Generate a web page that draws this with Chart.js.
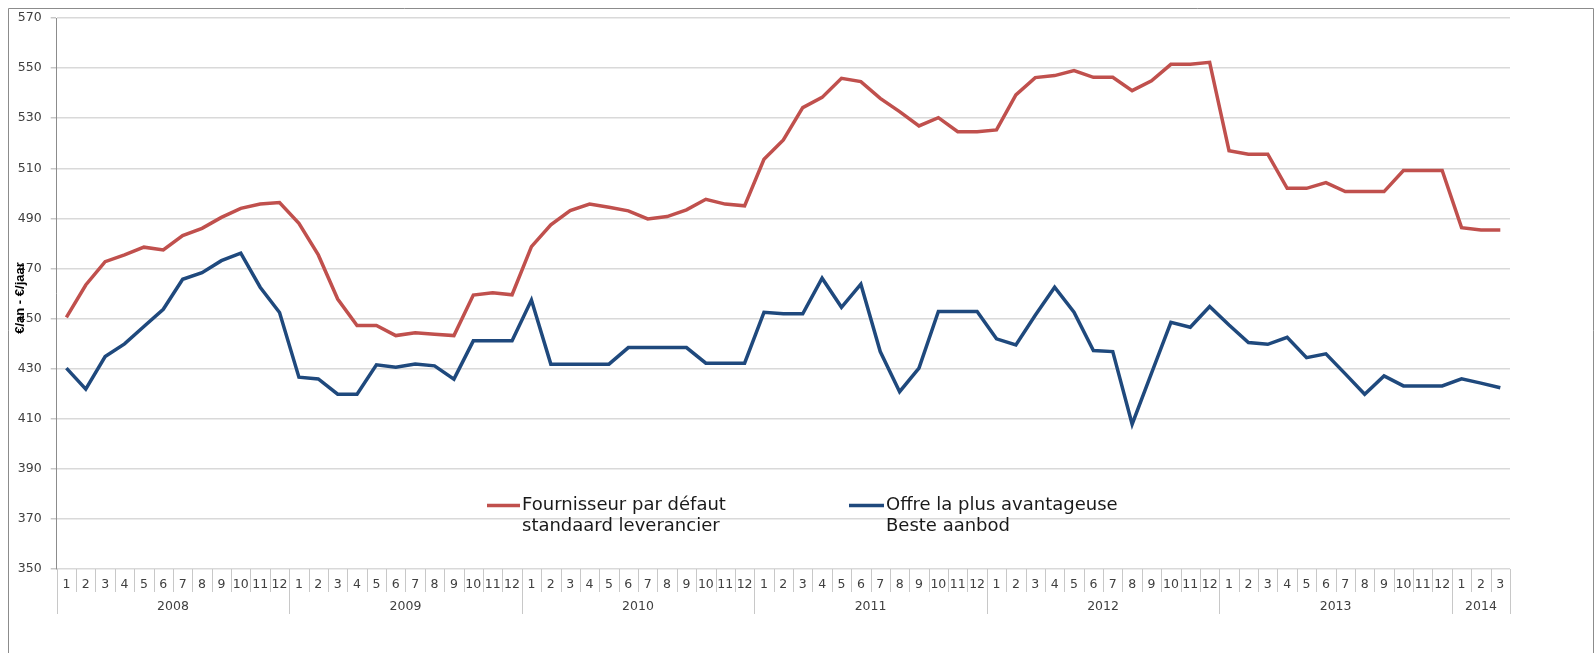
<!DOCTYPE html>
<html>
<head>
<meta charset="utf-8">
<script src="https://cdn.jsdelivr.net/npm/chart.js@4.4.1/dist/chart.umd.min.js"></script>
<style>
    html, body { margin: 0; padding: 0; background: #fff; }
    canvas { display: block; }
</style>
</head>
<body>
<canvas id="chart" width="1595" height="653"></canvas>
<script>
// categories: months grouped by year
const years = ['2008', '2009', '2010', '2011', '2012', '2013', '2014'];
const monthsInYear = [12, 12, 12, 12, 12, 12, 3];

// €/year
const defaultSupplier = [
    450.5, 463.4, 472.7, 475.4, 478.5, 477.4, 483.1, 486.0, 490.4, 494.0, 495.7, 496.3,
    488.0, 475.4, 457.8, 447.2, 447.2, 443.2, 444.3, 443.7, 443.2, 459.4, 460.3, 459.5,
    478.7, 487.4, 493.1, 495.7, 494.4, 493.0, 489.8, 490.7, 493.4, 497.6, 495.7, 495.0,
    513.6, 521.3, 534.2, 538.3, 545.9, 544.6, 537.9, 532.6, 526.9, 530.2, 524.6, 524.6,
    525.3, 539.3, 546.2, 547.0, 549.0, 546.3, 546.3, 541.0, 544.9, 551.5, 551.5, 552.3,
    517.0, 515.6, 515.6, 502.0, 502.0, 504.3, 500.7, 500.7, 500.7, 509.1, 509.1, 509.1,
    486.3, 485.4, 485.4
];
const bestOffer = [
    430.2, 421.8, 434.8, 439.9, 446.8, 453.7, 465.7, 468.3, 473.1, 476.1, 462.5, 452.4,
    426.6, 425.9, 419.8, 419.8, 431.5, 430.6, 431.8, 431.1, 425.8, 441.1, 441.1, 441.1,
    457.4, 431.8, 431.8, 431.8, 431.8, 438.4, 438.4, 438.4, 438.4, 432.2, 432.2, 432.2,
    452.5, 451.9, 451.9, 466.1, 454.5, 463.7, 436.8, 420.8, 430.2, 452.8, 452.8, 452.8,
    441.9, 439.5, 451.3, 462.5, 452.5, 437.2, 436.8, 407.8, 428.2, 448.5, 446.5, 454.8,
    447.4, 440.4, 439.7, 442.5, 434.4, 435.9, 427.9, 419.8, 427.1, 423.1, 423.1, 423.1,
    425.9, 424.2, 422.4
];

const yTicks = [350, 370, 390, 410, 430, 450, 470, 490, 510, 530, 550, 570];
const seriesNames = [
    ['Fournisseur par défaut', 'standaard leverancier'],
    ['Offre la plus avantageuse', 'Beste aanbod']
];
const yTitle = '€/an - €/jaar';

const monthLabels = [];
monthsInYear.forEach(n => {
    for (let m = 1; m <= n; m++) monthLabels.push(String(m));
});

const FONT = "'DejaVu Sans', sans-serif";
const LABEL_COLOR = '#404040';

// frame, year row, month separators, legend and axis title
const decorations = {
    id: 'decorations',
    afterDraw(chart) {
        const ctx = chart.ctx;
        const x = chart.scales.x;
        const area = chart.chartArea;
        const step = x.getPixelForValue(1) - x.getPixelForValue(0);
        const edge = i => x.getPixelForValue(0) - step / 2 + i * step;

        ctx.save();

        // outer frame
        ctx.strokeStyle = '#8c8c8c';
        ctx.lineWidth = 1;
        ctx.beginPath();
        ctx.moveTo(8.5, 653);
        ctx.lineTo(8.5, 8.5);
        ctx.lineTo(1593.5, 8.5);
        ctx.lineTo(1593.5, 653);
        ctx.stroke();

        // month separators
        ctx.strokeStyle = '#c8c8c8';
        ctx.beginPath();
        for (let i = 0; i <= monthLabels.length; i++) {
            const px = Math.round(edge(i)) + 0.5;
            ctx.moveTo(px, area.bottom);
            ctx.lineTo(px, area.bottom + 23);
        }
        ctx.stroke();

        // year separators + labels
        ctx.font = '12.5px ' + FONT;
        ctx.fillStyle = LABEL_COLOR;
        ctx.textAlign = 'center';
        ctx.textBaseline = 'middle';
        let start = 0;
        ctx.beginPath();
        years.forEach((yr, k) => {
            const end = start + monthsInYear[k];
            const a = edge(start), b = edge(end);
            ctx.moveTo(Math.round(a) + 0.5, area.bottom);
            ctx.lineTo(Math.round(a) + 0.5, area.bottom + 45);
            if (k === years.length - 1) {
                ctx.moveTo(Math.round(b) + 0.5, area.bottom);
                ctx.lineTo(Math.round(b) + 0.5, area.bottom + 45);
            }
            ctx.fillText(yr, (a + b) / 2, area.bottom + 38);
            start = end;
        });
        ctx.stroke();

        // legend inside the plot
        const legendPos = [[487, 522], [849, 886]];
        const legendY = 505.5;
        chart.data.datasets.forEach((ds, i) => {
            const [lx, tx] = legendPos[i];
            ctx.strokeStyle = ds.borderColor;
            ctx.lineWidth = 3.5;
            ctx.beginPath();
            ctx.moveTo(lx, legendY);
            ctx.lineTo(tx - 2, legendY);
            ctx.stroke();
            ctx.fillStyle = '#1a1a1a';
            ctx.font = '18px ' + FONT;
            ctx.textAlign = 'left';
            ctx.textBaseline = 'middle';
            seriesNames[i].forEach((line, j) => ctx.fillText(line, tx, legendY + j * 21));
        });

        // y axis title
        ctx.translate(20, 298);
        ctx.rotate(-Math.PI / 2);
        ctx.font = "bold 13px 'Liberation Sans', sans-serif";
        ctx.fillStyle = '#000';
        ctx.textAlign = 'center';
        ctx.textBaseline = 'middle';
        ctx.fillText(yTitle, 0, 0);

        ctx.restore();
    }
};

const ctx = document.getElementById('chart').getContext('2d');
new Chart(ctx, {
    type: 'line',
    data: {
        labels: monthLabels,
        datasets: [{
            label: seriesNames[0].join(' '),
            data: defaultSupplier,
            borderColor: '#C0504D',
            borderWidth: 3.5,
            pointRadius: 0,
            tension: 0
        }, {
            label: seriesNames[1].join(' '),
            data: bestOffer,
            borderColor: '#1F497D',
            borderWidth: 3.5,
            pointRadius: 0,
            tension: 0
        }]
    },
    options: {
        responsive: false,
        animation: false,
        devicePixelRatio: 1,
        layout: {
            padding: { top: 18, right: 85, left: 0, bottom: 0 }
        },
        plugins: {
            legend: { display: false },
            tooltip: { enabled: false }
        },
        scales: {
            x: {
                type: 'category',
                offset: true,
                grid: { display: false, drawTicks: false },
                border: { display: false },
                ticks: {
                    autoSkip: false,
                    maxRotation: 0,
                    padding: 8,
                    color: LABEL_COLOR,
                    font: { family: FONT, size: 12.5 }
                },
                afterFit: s => { s.height = 84; }
            },
            y: {
                min: 350,
                max: 570,
                afterBuildTicks: s => { s.ticks = yTicks.map(v => ({ value: v })); },
                grid: {
                    color: '#d9d9d9',
                    lineWidth: 1.5,
                    tickLength: 6,
                    tickColor: '#c8c8c8'
                },
                border: { color: '#8c8c8c', width: 1 },
                ticks: {
                    padding: 9,
                    color: LABEL_COLOR,
                    font: { family: FONT, size: 12.5 }
                },
                afterFit: s => { s.width = 56.7; }
            }
        }
    },
    plugins: [decorations]
});
</script>
</body>
</html>
